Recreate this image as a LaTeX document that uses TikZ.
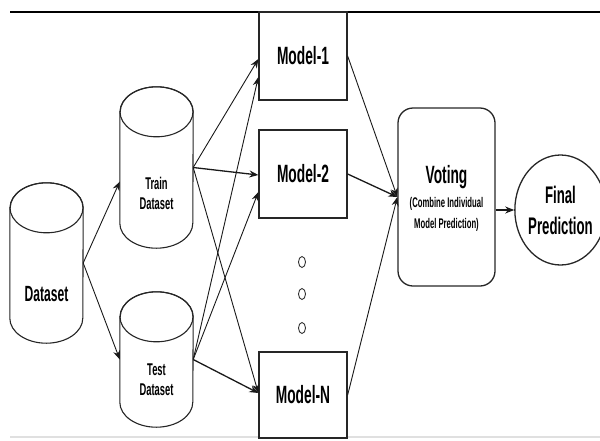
\documentclass[tikz,border=0pt]{standalone}
\usepackage{fontspec}
\setmainfont{Liberation Sans}[FakeStretch=0.55]
\usetikzlibrary{arrows.meta,shapes.geometric,calc}
\newcommand\mycyl[6]{% name, cx, cy, w, h, rx
  \node[inner sep=0pt, minimum width=#4pt, minimum height=#5pt] (#1) at (#2,#3) {};
  \draw[cylline, fill=white] ([yshift=-25pt]#1.north west) -- ([yshift=25pt]#1.south west)
    arc[start angle=180, end angle=360, x radius=#6pt, y radius=25pt]
    -- ([yshift=-25pt]#1.north east)
    arc[start angle=0, end angle=180, x radius=#6pt, y radius=25pt] -- cycle;
  \draw[cylline] ([yshift=-25pt]#1.north) ellipse [x radius=#6pt, y radius=25pt];
}
\newcommand\votefont{\fontsize{25}{28}\selectfont\bfseries}
\newcommand\subfont{\fontsize{14}{21}\selectfont\bfseries}
\begin{document}
\begin{tikzpicture}[x=1pt, y=-1pt,
  cylline/.style={line width=1.1pt, draw=black!85},
  modelbox/.style={draw=black!85, line width=1.3pt, fill=white, inner sep=0pt,
    minimum width=88pt, minimum height=88pt, font=\fontsize{25}{28}\selectfont\bfseries},
  biglbl/.style={font=\fontsize{22}{26}\selectfont\bfseries, align=center, inner sep=0pt},
  smalllbl/.style={font=\fontsize{17}{20}\selectfont\bfseries, align=center, inner sep=0pt},
  arr/.style={-{Stealth[length=9pt,width=7pt]}, line width=0.9pt, draw=black!90},
  dot/.style={draw=black!80, line width=0.9pt}
]
\useasboundingbox (0,0) rectangle (600,440);
% frame lines
\coordinate (tl) at (10,12);
\coordinate (tr) at (600,12);
\coordinate (bl) at (10,437);
\coordinate (br) at (600,437);
\draw[line width=1.5pt] (tl) -- (tr);
\draw[line width=2pt, black!12] (bl) -- (br);

% cylinders
\mycyl{ds}{46.5}{263}{73}{160}{36.5}
\mycyl{trn}{156.5}{167.5}{73}{161}{36.5}
\mycyl{tst}{156.5}{359.5}{73}{135}{36.5}
\node[biglbl] (dsl) at (46.5,294) {Dataset};
\node[smalllbl] (trl) at (156.5,193) {Train\\Dataset};
\node[smalllbl] (tsl) at (156.5,380) {Test\\Dataset};

% models
\node[modelbox] (m1) at (303,56) {Model-1};
\node[modelbox] (m2) at (303,174) {Model-2};
\node[modelbox, minimum height=86pt] (mn) at (303,395) {Model-N};

% dots
\draw[dot] (302,262) ellipse [x radius=3.5pt, y radius=5.5pt];
\draw[dot] (302,294) ellipse [x radius=3.5pt, y radius=5.5pt];
\draw[dot] (302,328) ellipse [x radius=3.5pt, y radius=5.5pt];

% voting
\node[draw=black!85, line width=1.3pt, rounded corners=15pt, minimum width=97pt,
  minimum height=178pt, inner sep=0pt] (vo) at (446.5,197) {};
\node[align=center, inner sep=0pt, font=\votefont] (vot) at (446.5,177) {Voting};
\node[align=center, inner sep=0pt, font=\subfont] (vos) at (446.5,214) {(Combine Individual\\Model Prediction)};

% final
\node[ellipse, draw=black!85, line width=1.3pt, minimum width=75pt, minimum height=110pt,
  inner sep=0pt, align=center, font=\fontsize{24}{31}\selectfont\bfseries] (fp) at (560.5,210)
  {Final\\Prediction};

% connectors
\draw[arr] (ds.east) -- ($(trn.west)+(0,14)$);
\draw[arr] (ds.east) -- (tst.west);
\draw[arr] (trn.east) -- ($(m1.west)+(0,3)$);
\draw[arr, line width=1.3pt] (trn.east) -- ($(m2.west)+(0,1)$);
\draw[arr] (trn.east) -- ($(mn.west)+(0,-2)$);
\draw[arr] (tst.east) -- ($(m1.west)+(0,21)$);
\draw[arr] (tst.east) -- ($(m2.west)+(0,18)$);
\draw[arr, line width=1.3pt] (tst.east) -- ($(mn.west)+(0,-2)$);
\draw[arr] (m1.east) -- (vo.west);
\draw[arr, line width=1.3pt] (m2.east) -- (vo.west);
\draw[arr] (mn.east) -- (vo.west);
\draw[arr, line width=1.3pt] (vo.east |- fp.west) -- (fp.west);
\end{tikzpicture}
\end{document}
